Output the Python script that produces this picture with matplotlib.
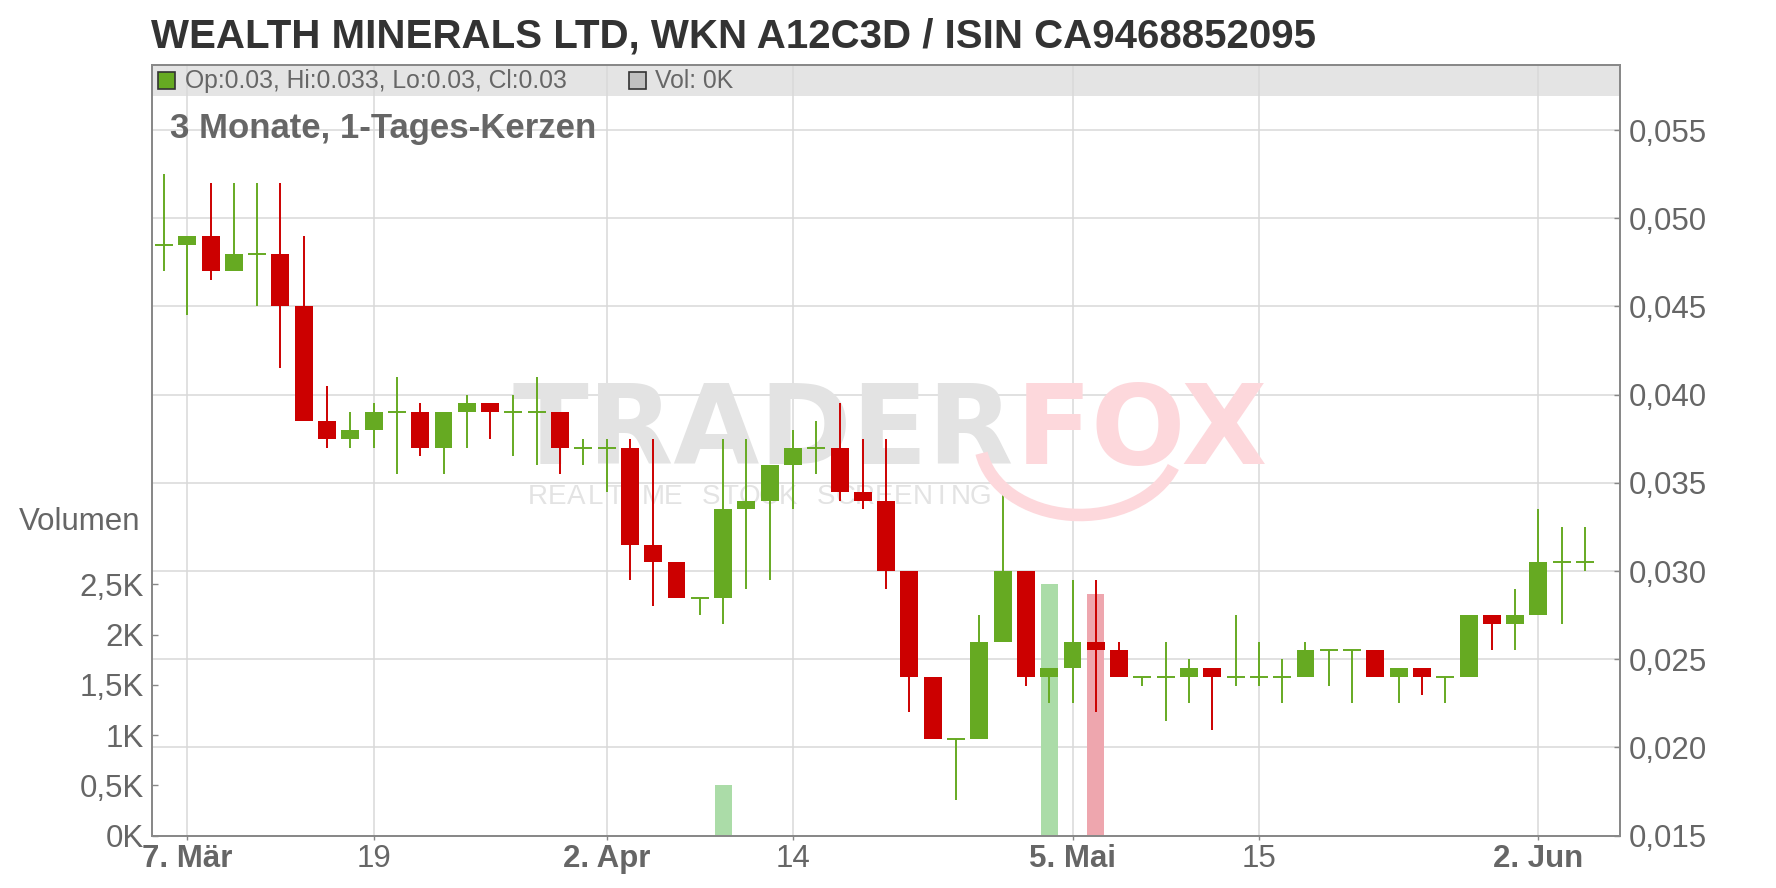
import matplotlib
matplotlib.use("Agg")
from matplotlib import pyplot as plt
from matplotlib.patches import Rectangle, Arc
from matplotlib.transforms import blended_transform_factory

plt.rcParams['font.family'] = ['Liberation Sans', 'DejaVu Sans']

# Daily candles, 6. Mar .. 4. Jun (trading days only)
opens = [0.0485, 0.0485, 0.049, 0.047, 0.048, 0.048, 0.045, 0.0385, 0.0375, 0.038,
         0.039, 0.039, 0.037, 0.039, 0.0395, 0.039, 0.039, 0.039, 0.037, 0.037,
         0.037, 0.0315, 0.0305, 0.0285, 0.0285, 0.0335, 0.034, 0.036, 0.037, 0.037,
         0.0345, 0.034, 0.030, 0.024, 0.0205, 0.0205, 0.026, 0.030, 0.024, 0.0245,
         0.026, 0.0255, 0.024, 0.024, 0.024, 0.0245, 0.024, 0.024, 0.024, 0.024,
         0.0255, 0.0255, 0.0255, 0.024, 0.0245, 0.024, 0.024, 0.0275, 0.027, 0.0275,
         0.0305, 0.0305]
highs = [0.0525, 0.049, 0.052, 0.052, 0.052, 0.052, 0.049, 0.0405, 0.039, 0.0395,
         0.041, 0.0395, 0.039, 0.040, 0.0395, 0.040, 0.041, 0.039, 0.0375, 0.0375,
         0.0375, 0.0375, 0.0305, 0.0285, 0.0375, 0.0375, 0.036, 0.038, 0.0385, 0.0395,
         0.0375, 0.0375, 0.030, 0.024, 0.0205, 0.0275, 0.0345, 0.030, 0.0245, 0.0295,
         0.0295, 0.026, 0.024, 0.026, 0.025, 0.0245, 0.0275, 0.026, 0.025, 0.026,
         0.0255, 0.0255, 0.0255, 0.0245, 0.0245, 0.024, 0.0275, 0.0275, 0.029, 0.0335,
         0.0325, 0.0325]
lows = [0.047, 0.0445, 0.0465, 0.047, 0.045, 0.0415, 0.0385, 0.037, 0.037, 0.037,
        0.0355, 0.0365, 0.0355, 0.037, 0.0375, 0.0365, 0.036, 0.0355, 0.036, 0.0345,
        0.0295, 0.028, 0.0285, 0.0275, 0.027, 0.029, 0.0295, 0.0335, 0.0355, 0.034,
        0.0335, 0.029, 0.022, 0.0205, 0.017, 0.0205, 0.026, 0.0235, 0.0225, 0.0225,
        0.022, 0.024, 0.0235, 0.0215, 0.0225, 0.021, 0.0235, 0.0235, 0.0225, 0.024,
        0.0235, 0.0225, 0.024, 0.0225, 0.023, 0.0225, 0.024, 0.0255, 0.0255, 0.0275,
        0.027, 0.030]
closes = [0.0485, 0.049, 0.047, 0.048, 0.048, 0.045, 0.0385, 0.0375, 0.038, 0.039,
          0.039, 0.037, 0.039, 0.0395, 0.039, 0.039, 0.039, 0.037, 0.037, 0.037,
          0.0315, 0.0305, 0.0285, 0.0285, 0.0335, 0.034, 0.036, 0.037, 0.037, 0.0345,
          0.034, 0.030, 0.024, 0.0205, 0.0205, 0.026, 0.030, 0.024, 0.0245, 0.026,
          0.0255, 0.024, 0.024, 0.024, 0.0245, 0.024, 0.024, 0.024, 0.024, 0.0255,
          0.0255, 0.0255, 0.024, 0.0245, 0.024, 0.024, 0.0275, 0.027, 0.0275, 0.0305,
          0.0305, 0.0305]
volumes = [0] * 62
volumes[24] = 500
volumes[38] = 2500
volumes[40] = 2400

date_ticks = [1, 9, 19, 27, 39, 47, 59]
date_labels = ["7. Mär", "19", "2. Apr", "14", "5. Mai", "15", "2. Jun"]
price_ticks = [0.015, 0.020, 0.025, 0.030, 0.035, 0.040, 0.045, 0.050, 0.055]
vol_ticks = [0, 500, 1000, 1500, 2000, 2500]
vol_labels = ["0K", "0,5K", "1K", "1,5K", "2K", "2,5K"]

GREEN = '#66aa22'
RED = '#cc0000'
GRID = '#d9d9d9'
AXC = '#888888'
TXT = '#666666'

W, H = 1776, 888
fig = plt.figure(figsize=(W / 100, H / 100), dpi=100)


def fx(px):
    return px / W


def fy(py):
    return 1 - py / H


left, right, top, bottom = 152.3, 1620, 65.3, 835.7
ax_v = fig.add_axes([fx(left), fy(bottom), fx(right - left), (bottom - top) / H])
ax_p = ax_v.twinx()
ax_v.set_zorder(0)
ax_p.set_zorder(1)
ax_p.patch.set_visible(False)

x = list(range(len(opens)))
ax_v.set_xlim(-0.5, 62.5)
ax_v.set_ylim(0, 7660)
ax_p.set_ylim(0.015, 0.05867)

# legend strip on top
ax_v.add_patch(Rectangle((0, 1 - 30.4 / (bottom - top)), 1, 30.4 / (bottom - top),
                         transform=ax_v.transAxes, facecolor='#e4e4e4',
                         edgecolor='none', zorder=0.5))

# watermark (behind everything in the plot)
fig.text(fx(512), fy(464), "TRADER", fontsize=80, fontweight='bold',
         family='DejaVu Sans', color='#e3e3e3', zorder=0.1)
fig.text(fx(1016), fy(464), "FOX", fontsize=80, fontweight='bold',
         family='DejaVu Sans', color='#fdd8dc', zorder=0.1)
fig.patches.append(Arc((fx(1080), fy(440)), fx(200), 150 / H, theta1=195, theta2=330,
                       transform=fig.transFigure, color='#fdd8dc', lw=9))
sub = "REALTIME STOCK SCREENING"
step = (980 - 538) / (len(sub) - 1)
for k, ch in enumerate(sub):
    fig.text(fx(538 + k * step), fy(504), ch, fontsize=20, color='#e3e3e3',
             ha='center', zorder=0.1)
ax_v.patch.set_visible(False)

# grid lines (on the volume axes, below the bars)
tr = blended_transform_factory(ax_v.transAxes, ax_p.transData)
for p in price_ticks[1:]:
    ax_v.plot([0, 1], [p, p], transform=tr, color=GRID, lw=1.1, zorder=1)
for t in date_ticks:
    ax_v.axvline(t, color=GRID, lw=1.1, zorder=1)

# volume bars
vol_colors = ['#abdca8' if c >= o else '#eea6ae' for o, c in zip(opens, closes)]
ax_v.bar(x, volumes, width=0.73, color=vol_colors, zorder=2)

# candles
for i in x:
    o, h, l, c = opens[i], highs[i], lows[i], closes[i]
    col = RED if c < o else GREEN
    ax_p.vlines(i, l, h, color=col, lw=1.4, zorder=3)
    if o == c:
        ax_p.hlines(o, i - 0.385, i + 0.385, color=col, lw=1.4, zorder=3)
    else:
        ax_p.bar(i, abs(c - o), bottom=min(o, c), width=0.77, color=col,
                 linewidth=0, zorder=4)

# axes styling
for a in (ax_v, ax_p):
    for s in a.spines.values():
        s.set_color(AXC)
        s.set_linewidth(1.3)

ax_p.set_yticks(price_ticks)
ax_p.set_yticklabels([f"{p:.3f}".replace('.', ',') for p in price_ticks])
ax_p.tick_params(axis='y', direction='in', length=4, width=1, color=AXC,
                 labelsize=22.5, labelcolor=TXT, pad=6)
ax_v.set_yticks(vol_ticks)
ax_v.set_yticklabels(vol_labels)
ax_v.tick_params(axis='y', direction='in', length=4, width=1, color=AXC,
                 labelsize=22.5, labelcolor=TXT, pad=6)
ax_v.set_xticks(date_ticks)
ax_v.set_xticklabels(date_labels)
ax_v.tick_params(axis='x', direction='out', length=3, width=1, color=AXC,
                 labelsize=22.5, labelcolor=TXT, pad=3)
for lab in ax_v.get_xticklabels():
    if not lab.get_text().isdigit():
        lab.set_fontweight('bold')
ax_p.tick_params(axis='x', bottom=False, labelbottom=False)

# titles and labels
fig.text(fx(151), fy(47.3), "WEALTH MINERALS LTD, WKN A12C3D / ISIN CA9468852095",
         fontsize=29, fontweight='bold', color='#333333')
fig.text(fx(170), fy(138), "3 Monate, 1-Tages-Kerzen", fontsize=25,
         fontweight='bold', color=TXT)
fig.text(fx(140), fy(521.5), "Volumen", fontsize=22.5, color=TXT, ha='right',
         va='center')

# legend items
fig.patches.append(Rectangle((fx(158), fy(89)), fx(17), 17 / H, transform=fig.transFigure,
                             facecolor=GREEN, edgecolor='#333333', lw=1.2))
fig.text(fx(185), fy(88), "Op:0.03, Hi:0.033, Lo:0.03, Cl:0.03", fontsize=17.8,
         color=TXT)
fig.patches.append(Rectangle((fx(629), fy(89)), fx(17), 17 / H, transform=fig.transFigure,
                             facecolor='#c0c0c0', edgecolor='#333333', lw=1.2))
fig.text(fx(655), fy(88), "Vol: 0K", fontsize=17.8, color=TXT)

fig.savefig("out.png", dpi=100)
